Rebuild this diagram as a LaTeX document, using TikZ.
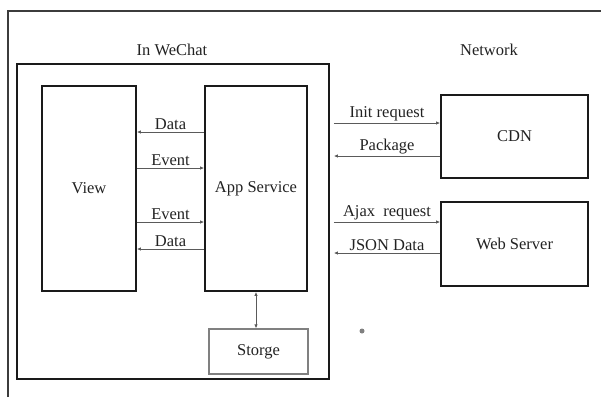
\documentclass[tikz,border=0pt]{standalone}
\usepackage{fontspec}
\setmainfont{Liberation Serif}
\usepackage{tikz}
\usetikzlibrary{calc, arrows.meta, positioning}
\definecolor{WXline}{HTML}{1A1A1A}
\definecolor{WXarrow}{HTML}{5A5A5A}
\definecolor{WXsoft}{HTML}{808080}
\definecolor{WXtext}{HTML}{222222}

\begin{document}
\begin{tikzpicture}[x=1pt, y=-1pt,
    box/.style={draw=WXline, line width=1.8pt, inner sep=0pt,
      font=\fontsize{16.5}{19}\selectfont, text=WXtext},
    softbox/.style={draw=WXsoft, line width=1.3pt, inner sep=0pt,
      font=\fontsize{16.5}{19}\selectfont, text=WXtext},
    flow/.style={-{Latex[length=4pt, width=3.5pt]}, WXarrow, line width=0.8pt},
    tag/.style={above=0.5pt, inner sep=1pt, text=WXtext,
      font=\fontsize{16.5}{19}\selectfont},
    heading/.style={text=WXtext, font=\fontsize{16.5}{19}\selectfont}
  ]
    \useasboundingbox (0,0) rectangle (601,397);
    % outer frame (open to the right and bottom)
    \draw[WXline!85, line width=1.8pt] (8,397) -- (8,11) -- (601,11);

    \node[heading] (wechatlbl) at (172,50) {In WeChat};
    \node[heading] (netlbl) at (489,50) {Network};

    \node[box, minimum width=312pt, minimum height=315pt] (wechat) at (173,221.5) {};
    \node[box, minimum width=94pt, minimum height=205pt] (view) at (89,188.5) {View};
    \node[box, minimum width=102pt, minimum height=205pt] (app) at (256,188.5) {App Service};
    \node[softbox, minimum width=99pt, minimum height=45pt] (store) at (258.5,351.5) {Storge};
    \node[box, minimum width=147pt, minimum height=83pt] (cdn) at (514.5,136.5) {CDN};
    \node[box, minimum width=147pt, minimum height=84pt] (web) at (514.5,244) {Web Server};

    % view <-> app service
    \draw[flow] ($(app.west)+(0,-56.5)$) -- ($(view.east)+(0,-56.5)$)
      node[midway, tag] {Data};
    \draw[flow] ($(view.east)+(0,-20.5)$) -- ($(app.west)+(0,-20.5)$)
      node[midway, tag] {Event};
    \draw[flow] ($(view.east)+(0,33.5)$) -- ($(app.west)+(0,33.5)$)
      node[midway, tag] {Event};
    \draw[flow] ($(app.west)+(0,60.5)$) -- ($(view.east)+(0,60.5)$)
      node[midway, tag] {Data};

    \draw[flow, {Latex[length=4pt, width=3.5pt]}-{Latex[length=4pt, width=3.5pt]}]
      (app.south) -- (app.south |- store.north);

    % in wechat <-> network
    \draw[flow] ($(cdn.west -| wechat.east)+(4,-13.5)$) -- ($(cdn.west)+(0,-13.5)$)
      node[midway, tag] {Init request};
    \draw[flow] ($(cdn.west)+(0,19.5)$) -- ($(cdn.west -| wechat.east)+(4,19.5)$)
      node[midway, tag] {Package};
    \draw[flow] ($(web.west -| wechat.east)+(4,-22)$) -- ($(web.west)+(0,-22)$)
      node[midway, tag] {Ajax~ request};
    \draw[flow] ($(web.west)+(0,9)$) -- ($(web.west -| wechat.east)+(4,9)$)
      node[midway, tag] {JSON Data};

    \fill[WXsoft] (362,331) circle (2.5pt);
  \end{tikzpicture}
\end{document}
